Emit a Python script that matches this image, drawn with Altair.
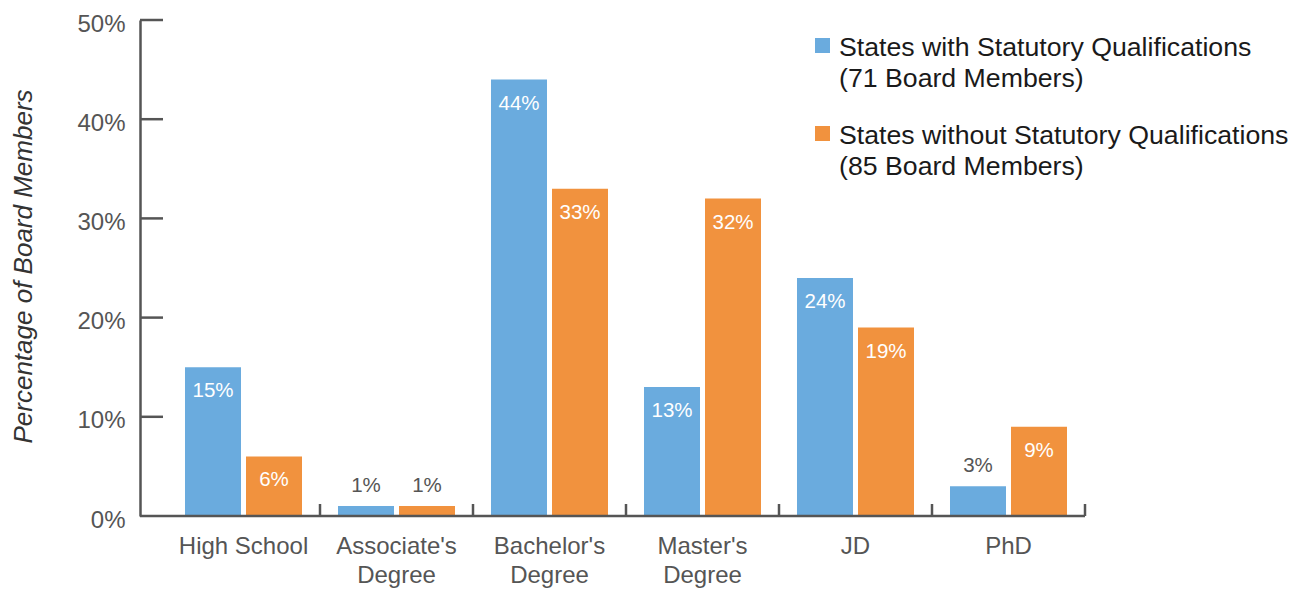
import altair as alt
import pandas as pd

categories = ["High School", "Associate's Degree", "Bachelor's Degree",
              "Master's Degree", "JD", "PhD"]
series = ["States with Statutory Qualifications",
          "States without Statutory Qualifications"]
series_notes = ["(71 Board Members)", "(85 Board Members)"]
with_values = [15, 1, 44, 13, 24, 3]
without_values = [6, 1, 33, 32, 19, 9]
y_tick_values = [0, 10, 20, 30, 40, 50]
colors = ["#6AABDE", "#F1923E"]

rows = []
for c, a, b in zip(categories, with_values, without_values):
    rows.append({"cat": c, "series": series[0], "value": a})
    rows.append({"cat": c, "series": series[1], "value": b})
df = pd.DataFrame(rows)
df["label"] = df["value"].astype(str) + "%"
df["inside"] = df["value"] >= 5

W, H = 945, 496
FONT = "Liberation Sans"
GRAY = "#555555"

xscale = alt.Scale(domain=categories, range=[27, W], paddingInner=0, paddingOuter=0)
xoff_scale = alt.Scale(domain=series, paddingInner=0.082, paddingOuter=0.295)
yscale = alt.Scale(domain=[0, 50])
cscale = alt.Scale(domain=series, range=colors)

x_axis = alt.Axis(
    title=None, domain=False, ticks=False, labelAngle=0,
    labelFont=FONT, labelFontSize=24, labelColor=GRAY,
    labelPadding=18, labelLineHeight=29, labelBaseline="top",
    labelExpr="indexof(['High School','JD','PhD'], datum.value) >= 0 ? datum.label : split(datum.label, ' ')",
)
y_axis = alt.Axis(
    title="Percentage of Board Members", values=y_tick_values,
    labelExpr="datum.value + '%'", ticks=False, grid=False,
    labelPadding=15, labelOffset=4, labelFont=FONT, labelFontSize=24, labelColor=GRAY,
    domainColor=GRAY, domainWidth=2.5,
    titleFont=FONT, titleFontSize=26, titleFontStyle="italic",
    titleFontWeight="normal", titleColor="#333333",
    titleX=-117, titleY=246, titleAlign="center", titleBaseline="middle",
)

base = alt.Chart(df)
enc_x = alt.X("cat:N", scale=xscale, sort=categories, axis=x_axis)
enc_xo = alt.XOffset("series:N", scale=xoff_scale, sort=series)
enc_y = alt.Y("value:Q", scale=yscale, axis=y_axis)

bars = base.mark_bar().encode(
    x=enc_x, xOffset=enc_xo, y=enc_y,
    color=alt.Color("series:N", scale=cscale, legend=None),
)
inside = base.transform_filter("datum.inside").mark_text(
    dy=24, baseline="middle", color="white", font=FONT, fontSize=20.5,
).encode(x=enc_x, xOffset=enc_xo, y=enc_y, text="label:N")
outside = base.transform_filter("!datum.inside").mark_text(
    dy=-20, baseline="middle", color=GRAY, font=FONT, fontSize=20.5,
).encode(x=enc_x, xOffset=enc_xo, y=enc_y, text="label:N")

x_line = alt.Chart(pd.DataFrame({"value": [0]})).mark_rule(
    color=GRAY, strokeWidth=2.5
).encode(y=alt.Y("value:Q", scale=yscale, axis=y_axis), x=alt.value(0), x2=alt.value(W))

x_ticks = alt.Chart(pd.DataFrame({"cat": categories})).mark_rule(
    color=GRAY, strokeWidth=2.5
).encode(
    x=alt.X("cat:N", scale=xscale, sort=categories, axis=x_axis, bandPosition=1),
    y=alt.value(H - 12), y2=alt.value(H),
)

y_ticks = alt.Chart(pd.DataFrame({"value": y_tick_values[1:]})).mark_rule(
    color=GRAY, strokeWidth=2.5
).encode(y=alt.Y("value:Q", scale=yscale, axis=y_axis), x=alt.value(0), x2=alt.value(23))

legend_layers = []
for i, (s, note) in enumerate(zip(series, series_notes)):
    ld = pd.DataFrame({"series": [s]})
    legend_layers.append(
        alt.Chart(ld).mark_square(size=225, opacity=1, filled=True).encode(
            x=alt.value(682.5), y=alt.value(25.5 + 88 * i),
            color=alt.Color("series:N", scale=cscale, legend=None),
        )
    )
    legend_layers.append(
        alt.Chart(ld).mark_text(
            text=[s, note], align="left", baseline="alphabetic", lineHeight=30.5,
            font=FONT, fontSize=26.7, color="#1a1a1a",
        ).encode(x=alt.value(699), y=alt.value(36 + 88 * i))
    )

chart = alt.layer(bars, inside, outside, x_line, x_ticks, y_ticks, *legend_layers).properties(
    width=W, height=H,
    autosize=alt.AutoSizeParams(type="none"),
    padding={"left": 132, "top": 12, "right": 212, "bottom": 72},
).configure_view(stroke=None)

chart.save("out.html", embed_options={"renderer": "svg", "actions": False})
